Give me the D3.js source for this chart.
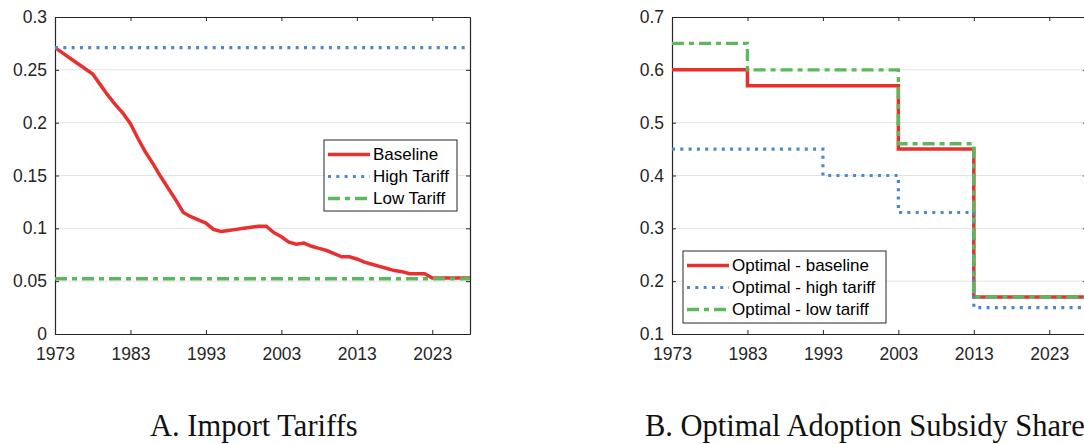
<!DOCTYPE html>
<html>
<head>
<meta charset="utf-8">
<script src="https://cdn.jsdelivr.net/npm/d3@7"></script>
<style>
  body { margin: 0; background: #fff; }
  svg { display: block; }
  .tick text { font-family: "Liberation Sans", Arial, sans-serif; font-size: 17.5px; fill: #262626; }
  .legend text { font-family: "Liberation Sans", Arial, sans-serif; font-size: 17px; fill: #000; }
  .caption { font-family: "Liberation Serif", "Times New Roman", serif; font-size: 30.5px; fill: #111; }
</style>
</head>
<body>
<svg id="chart" width="1084" height="444"></svg>
<script>
// panel A: import tariffs
const yearsA = d3.range(1973, 2029);
const baselineA = [
    0.271, 0.266, 0.261, 0.256, 0.251, 0.246, 0.236, 0.226, 0.217, 0.209,
    0.199, 0.185, 0.172, 0.161, 0.149, 0.138, 0.127, 0.115, 0.111, 0.108,
    0.105, 0.099, 0.097, 0.098, 0.099, 0.100, 0.101, 0.102, 0.102, 0.096,
    0.092, 0.087, 0.085, 0.086, 0.083, 0.081, 0.079, 0.076, 0.073, 0.073,
    0.071, 0.068, 0.066, 0.064, 0.062, 0.060, 0.059, 0.057, 0.057, 0.057,
    0.053, 0.053, 0.053, 0.053, 0.053, 0.053
];
const highA = yearsA.map(() => 0.271);
const lowA = yearsA.map(() => 0.0523);
const yTicksA = [0, 0.05, 0.1, 0.15, 0.2, 0.25, 0.3];
const labelsA = ['Baseline', 'High Tariff', 'Low Tariff'];

// panel B: optimal adoption subsidy share (step changes)
const stepYearsB = [1973, 1983, 2003, 2013, 2028];
const baselineB = [0.60, 0.57, 0.45, 0.17, 0.17];
const highYearsB = [1973, 1993, 2003, 2013, 2028];
const highB = [0.45, 0.40, 0.33, 0.15, 0.15];
const lowB = [0.65, 0.60, 0.46, 0.17, 0.17];
const yTicksB = [0.1, 0.2, 0.3, 0.4, 0.5, 0.6, 0.7];
const labelsB = ['Optimal - baseline', 'Optimal - high tariff', 'Optimal - low tariff'];

const xTicks = [1973, 1983, 1993, 2003, 2013, 2023];

const styles = [
    {color: '#e8302f', dash: null, width: 3.5},
    {color: '#4a89c6', dash: '3,5.3', width: 3.2},
    {color: '#5cb85c', dash: '12,5,5,5', width: 3.4}
];

const svg = d3.select('#chart');
svg.append('rect').attr('width', 1084).attr('height', 444).attr('fill', '#fff');

function drawPanel(opts) {
    const x = d3.scaleLinear().domain([1973, 2028]).range([opts.left, opts.right]);
    const y = d3.scaleLinear().domain(opts.yDomain).range([334, 17]);
    const g = svg.append('g');

    // grid
    g.selectAll('.grid').data(opts.yTicks.slice(1, -1))
        .enter().append('line')
            .attr('x1', opts.left).attr('x2', opts.right)
            .attr('y1', d => y(d)).attr('y2', d => y(d))
            .attr('stroke', '#e3e3e3')
            .attr('stroke-width', 1);

    const axes = [
        d3.axisBottom(x).tickValues(xTicks).tickFormat(d3.format('d')).tickSize(-4).tickSizeOuter(0).tickPadding(13.5),
        d3.axisLeft(y).tickValues(opts.yTicks).tickFormat(d => d === 0 ? '0' : String(d)).tickSize(-4).tickSizeOuter(0).tickPadding(8),
        d3.axisTop(x).tickValues(xTicks).tickFormat('').tickSize(-4).tickSizeOuter(0),
        d3.axisRight(y).tickValues(opts.yTicks).tickFormat('').tickSize(-4).tickSizeOuter(0)
    ];
    const shifts = [[0, 334], [opts.left, 0], [0, 17], [opts.right, 0]];
    axes.forEach((ax, i) => {
        const a = g.append('g')
            .attr('transform', `translate(${shifts[i][0]},${shifts[i][1]})`)
            .call(ax);
        a.select('.domain').attr('stroke', '#262626').attr('stroke-width', 1.2);
        a.selectAll('.tick line').attr('stroke', '#262626').attr('stroke-width', 1);
    });
    g.selectAll('.tick text').attr('fill', '#262626');

    // series
    const clip = 'clip' + opts.id;
    g.append('clipPath').attr('id', clip)
        .append('rect')
            .attr('x', opts.left).attr('y', 15)
            .attr('width', opts.right - opts.left).attr('height', 322);

    opts.series.forEach((s, i) => {
        const line = d3.line()
            .x(d => x(d[0]))
            .y(d => y(d[1]))
            .curve(opts.step ? d3.curveStepAfter : d3.curveLinear);
        g.append('path')
            .datum(s.years.map((yr, j) => [yr, s.values[j]]))
            .attr('d', line)
            .attr('fill', 'none')
            .attr('clip-path', `url(#${clip})`)
            .attr('stroke', styles[i].color)
            .attr('stroke-width', styles[i].width)
            .attr('stroke-dasharray', styles[i].dash);
    });

    // legend
    const lg = g.append('g').attr('class', 'legend');
    lg.append('rect')
        .attr('x', opts.legend.x).attr('y', opts.legend.y)
        .attr('width', opts.legend.w).attr('height', opts.legend.h)
        .attr('fill', '#fff')
        .attr('stroke', '#262626')
        .attr('stroke-width', 1);
    opts.labels.forEach((label, i) => {
        const cy = opts.legend.y + 14.5 + i * 22;
        lg.append('line')
            .attr('x1', opts.legend.x + 4).attr('x2', opts.legend.x + 46)
            .attr('y1', cy).attr('y2', cy)
            .attr('stroke', styles[i].color)
            .attr('stroke-width', styles[i].width)
            .attr('stroke-dasharray', styles[i].dash);
        lg.append('text')
            .attr('x', opts.legend.x + 49)
            .attr('y', cy)
            .attr('dy', '0.35em')
            .text(label);
    });

    svg.append('text')
        .attr('class', 'caption')
        .attr('x', opts.captionX)
        .attr('y', 436)
        .text(opts.caption);
}

drawPanel({
    id: 'A', left: 55, right: 470, yDomain: [0, 0.3], yTicks: yTicksA, step: false,
    series: [
        {years: yearsA, values: baselineA},
        {years: yearsA, values: highA},
        {years: yearsA, values: lowA}
    ],
    labels: labelsA,
    legend: {x: 324, y: 140, w: 133, h: 71},
    caption: 'A. Import Tariffs', captionX: 150
});

drawPanel({
    id: 'B', left: 672, right: 1087, yDomain: [0.1, 0.7], yTicks: yTicksB, step: true,
    series: [
        {years: stepYearsB, values: baselineB},
        {years: highYearsB, values: highB},
        {years: stepYearsB, values: lowB}
    ],
    labels: labelsB,
    legend: {x: 683, y: 251, w: 203, h: 72},
    caption: 'B. Optimal Adoption Subsidy Share', captionX: 645
});
</script>
</body>
</html>
